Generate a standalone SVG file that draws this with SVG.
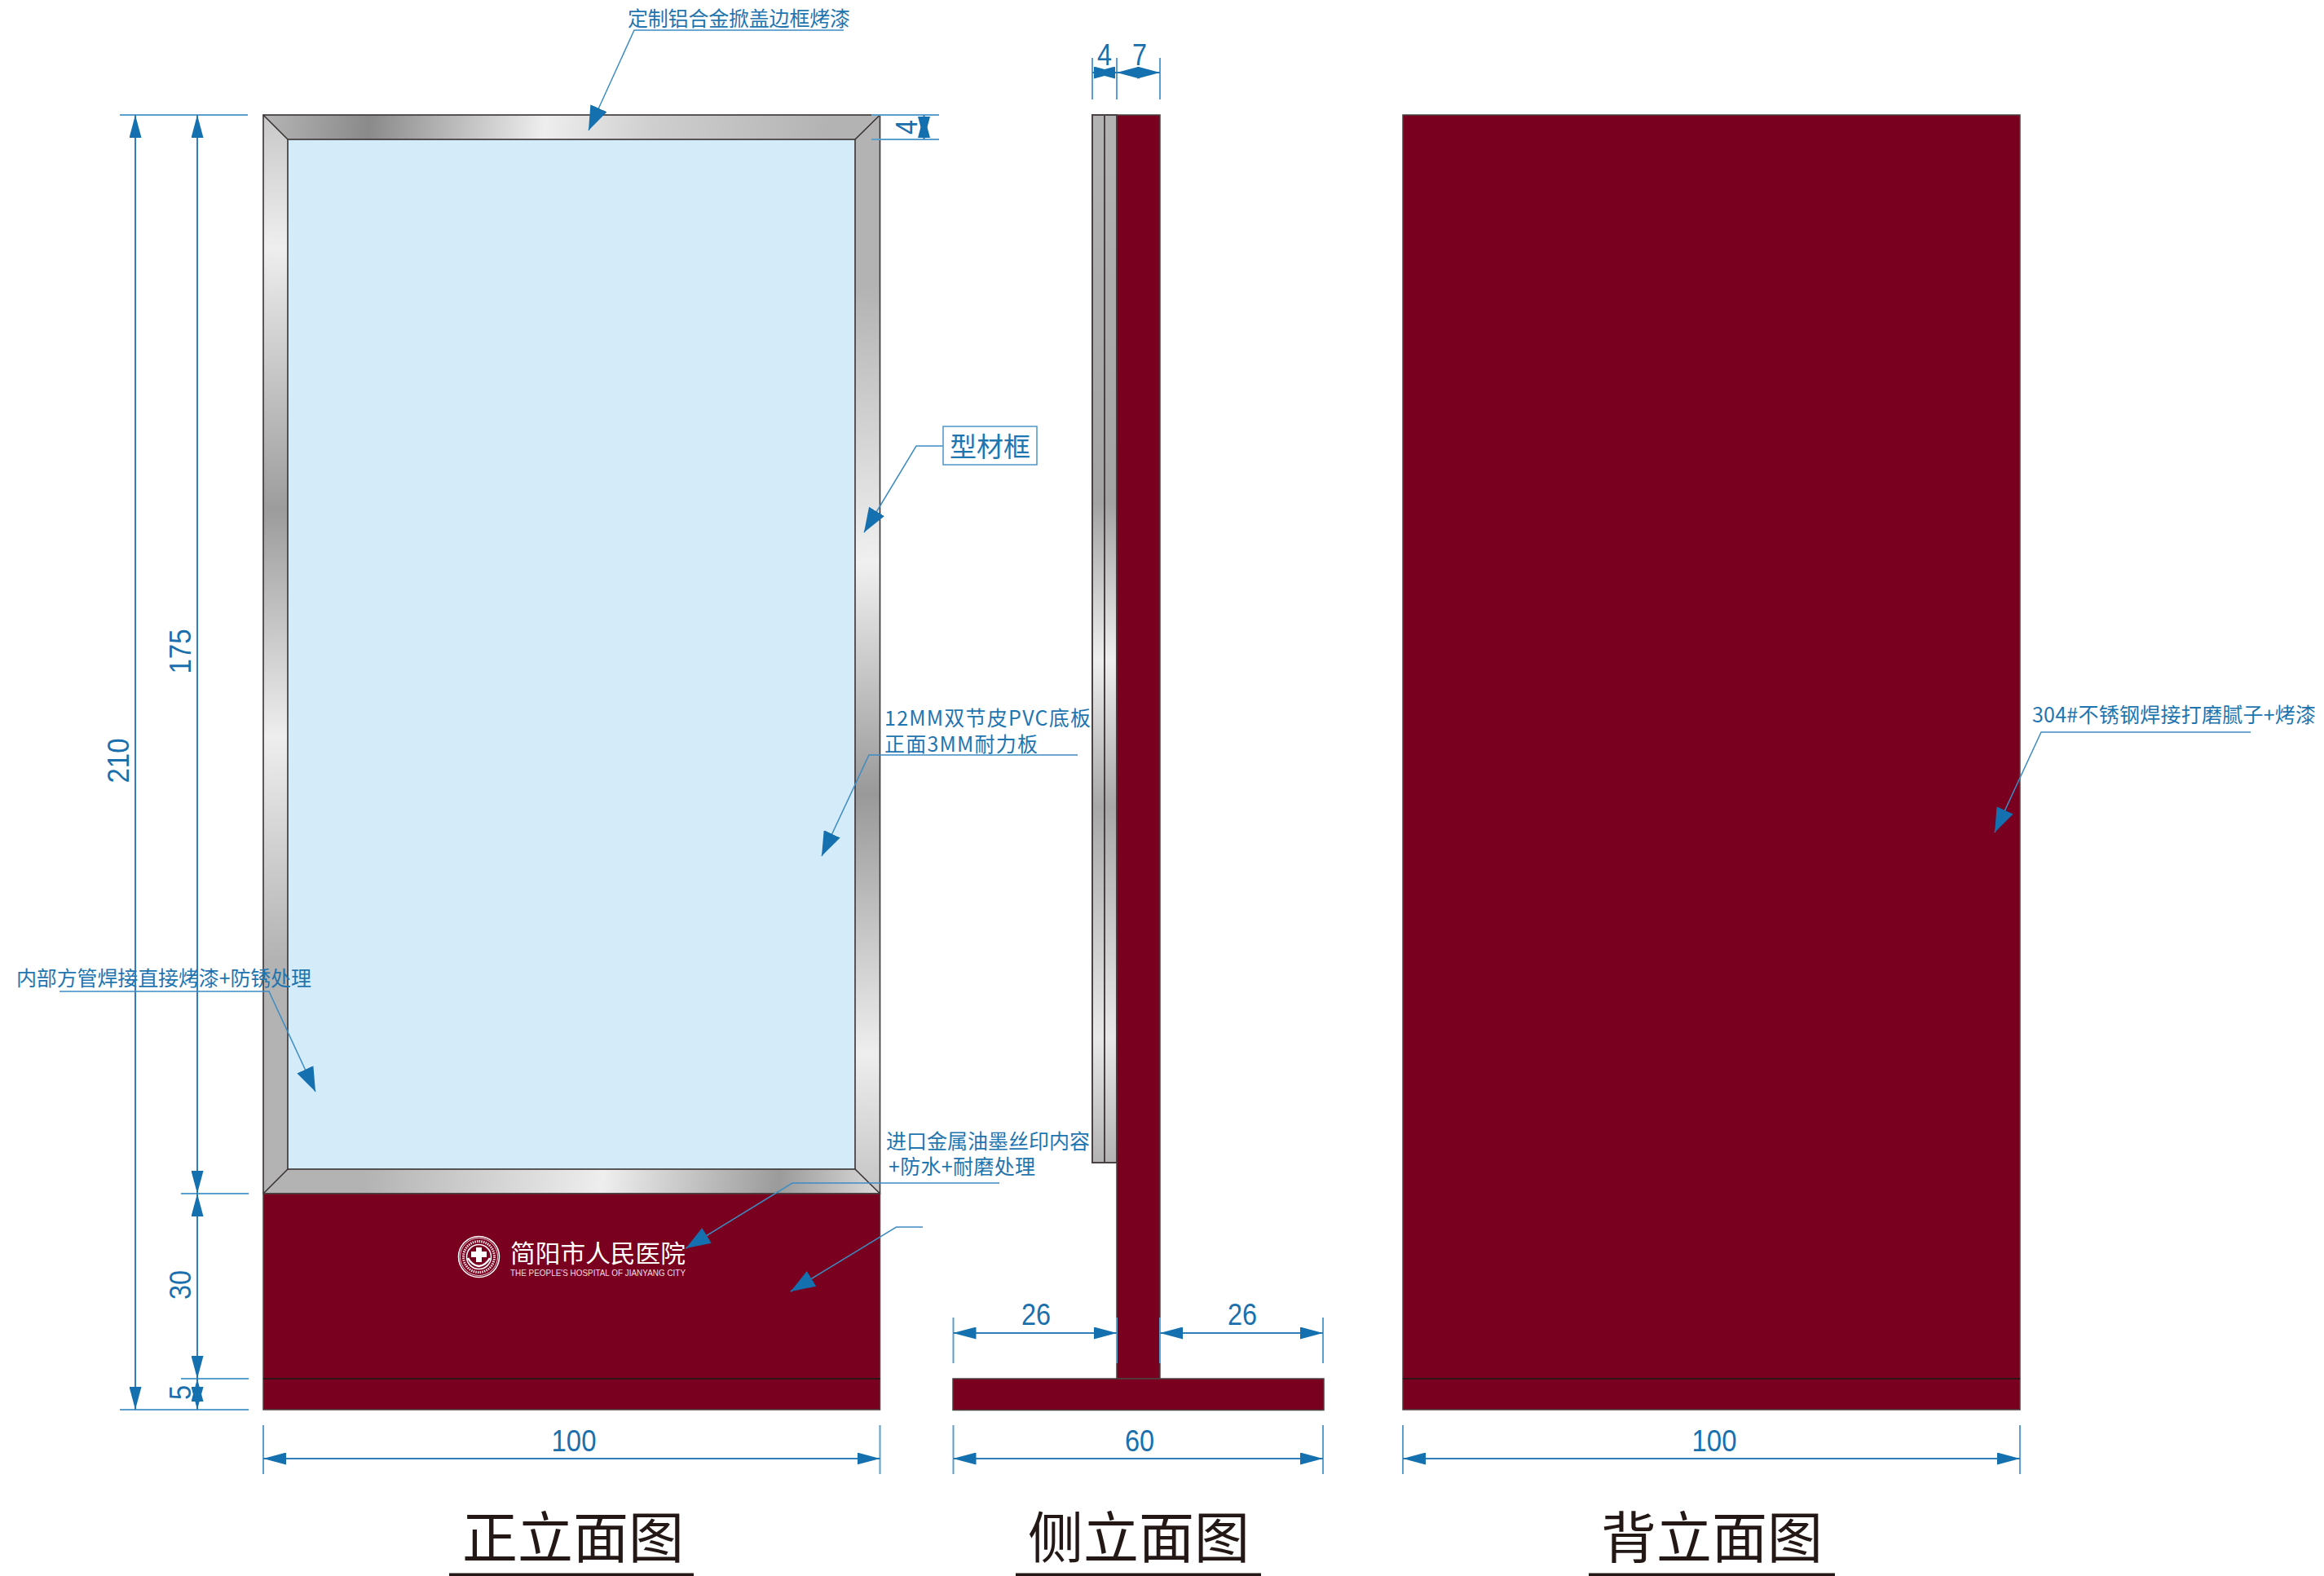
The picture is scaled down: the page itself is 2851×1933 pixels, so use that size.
<svg xmlns="http://www.w3.org/2000/svg" width="2851" height="1933" viewBox="0 0 2851 1933">
<style>
.cn{font-family:"Noto Sans CJK SC","Noto Sans",sans-serif;font-size:25px;fill:#1f75b0}
.dimt{font-family:"Liberation Sans",Arial,sans-serif;font-size:36px;fill:#1a70ad;text-anchor:middle}
.title{font-family:"Noto Sans CJK SC",sans-serif;font-size:68px;fill:#231815;text-anchor:middle}
.maroon{fill:#79001f;stroke:#4a4040;stroke-width:1.5}
.edge{fill:none;stroke:#3a3232;stroke-width:1.6}
.side{fill:url(#gs);stroke:#4a4242;stroke-width:2}
.sep{stroke:#2c1418;stroke-width:2}
.dim{stroke:#2f80ba;stroke-width:2;fill:none;marker-start:url(#ah);marker-end:url(#ah)}
.tick{stroke:#5a9fce;stroke-width:2;fill:none}
.lead{stroke:#3d8cc2;stroke-width:1.5;fill:none;marker-end:url(#lh)}
.under{fill:#231815}
</style>
<defs>
<marker id="ah" viewBox="0 0 28 15" refX="28" refY="7.5" markerWidth="28" markerHeight="15" markerUnits="userSpaceOnUse" orient="auto-start-reverse"><path d="M0 0L28 7.500L0 15z" fill="#1470ae"/></marker>
<marker id="lh" viewBox="0 0 30 22" refX="30" refY="11" markerWidth="30" markerHeight="22" markerUnits="userSpaceOnUse" orient="auto"><path d="M0 0L30 11L0 22z" fill="#1470ae"/></marker>
<linearGradient id="gt" gradientUnits="userSpaceOnUse" x1="323" y1="141" x2="1079" y2="250">
<stop offset="0" stop-color="#b5b5b5"/><stop offset=".17" stop-color="#8a8a8a"/><stop offset=".45" stop-color="#eeeeee"/><stop offset=".62" stop-color="#cfcfcf"/><stop offset=".9" stop-color="#b3b3b3"/><stop offset="1" stop-color="#b3b3b3"/></linearGradient>
<linearGradient id="gb" gradientUnits="userSpaceOnUse" x1="323" y1="1400" x2="1079" y2="1500">
<stop offset="0" stop-color="#b3b3b3"/><stop offset=".17" stop-color="#b3b3b3"/><stop offset=".55" stop-color="#eeeeee"/><stop offset=".83" stop-color="#9b9b9b"/><stop offset="1" stop-color="#dddddd"/></linearGradient>
<linearGradient id="gl" gradientUnits="userSpaceOnUse" x1="323" y1="141" x2="353" y2="1434">
<stop offset="0" stop-color="#c8c8c8"/><stop offset=".125" stop-color="#eeeeee"/><stop offset=".375" stop-color="#9c9c9c"/><stop offset=".59" stop-color="#eeeeee"/><stop offset=".8" stop-color="#b3b3b3"/><stop offset="1" stop-color="#b3b3b3"/></linearGradient>
<linearGradient id="gr" gradientUnits="userSpaceOnUse" x1="1049" y1="141" x2="1079" y2="1464">
<stop offset="0" stop-color="#b3b3b3"/><stop offset=".16" stop-color="#b3b3b3"/><stop offset=".415" stop-color="#f0f0f0"/><stop offset=".63" stop-color="#999999"/><stop offset=".87" stop-color="#eeeeee"/><stop offset="1" stop-color="#c4c4c4"/></linearGradient>
<linearGradient id="gs" gradientUnits="userSpaceOnUse" x1="0" y1="141" x2="0" y2="1426">
<stop offset="0" stop-color="#b3b3b3"/><stop offset=".37" stop-color="#a3a3a3"/><stop offset=".52" stop-color="#eeeeee"/><stop offset=".66" stop-color="#a8a8a8"/><stop offset=".88" stop-color="#e8e8e8"/><stop offset="1" stop-color="#b3b3b3"/></linearGradient>
</defs>
<rect width="2851" height="1933" fill="#fff"/>

<g id="front-elevation">
<rect x="353" y="171" width="696" height="1263" fill="#d4ebf9"/>
<polygon points="323,141 1079.500,141 1049,171 353,171" fill="url(#gt)"/>
<polygon points="323,1464 1079.500,1464 1049,1434 353,1434" fill="url(#gb)"/>
<polygon points="323,141 353,171 353,1434 323,1464" fill="url(#gl)"/>
<polygon points="1079.500,141 1049,171 1049,1434 1079.500,1464" fill="url(#gr)"/>
<rect x="323" y="141" width="756.500" height="1323" class="edge"/>
<rect x="353" y="171" width="696" height="1263" class="edge"/>
<path d="M323 141L353 171M1079.500 141L1049 171M323 1464L353 1434M1079.500 1464L1049 1434" class="edge"/>
<rect x="323" y="1464" width="756.500" height="265" class="maroon"/>
<line x1="323" y1="1691" x2="1079.500" y2="1691" class="sep"/>
</g>

<g id="logo">
<circle cx="587.500" cy="1541.500" r="25" fill="none" stroke="#fff" stroke-width="1.5"/>
<circle cx="587.500" cy="1541.500" r="23" fill="none" stroke="#fff" stroke-width=".8"/>
<circle cx="587.500" cy="1541.500" r="19" fill="none" stroke="#f2dfe3" stroke-width="3" stroke-dasharray="1.500 1.200"/>
<circle cx="587.500" cy="1541.500" r="15" fill="none" stroke="#fff" stroke-width="1.500"/>
<path d="M584 1530h7v5h6v7h-6v6h-7v-6h-6v-7h6z" fill="#fff"/>
<path d="M574 1543q5 9 13.500 10q8.500-1 13.500-10" fill="none" stroke="#fff" stroke-width="2.500"/>
<text x="626" y="1548" font-family="'Noto Sans CJK SC',sans-serif" font-size="30" fill="#fff" textLength="215" lengthAdjust="spacingAndGlyphs">简阳市人民医院</text>
<text x="626" y="1565" font-family="'Liberation Sans',sans-serif" font-size="11" fill="#f0dde1" textLength="215" lengthAdjust="spacingAndGlyphs">THE PEOPLE'S HOSPITAL OF JIANYANG CITY</text>
</g>

<g id="side-elevation">
<rect x="1340" y="141" width="15" height="1285" class="side"/>
<rect x="1355" y="141" width="15" height="1285" class="side"/>
<rect x="1370" y="141" width="53" height="1550" class="maroon"/>
<rect x="1169" y="1691" width="455" height="38.500" class="maroon"/>
</g>

<g id="back-elevation">
<rect x="1721" y="141" width="757" height="1588" class="maroon"/>
<line x1="1721" y1="1691" x2="2478" y2="1691" class="sep"/>
</g>

<g id="connectors">
<path class="tick" d="M147 141H304M147 1729H305M222 1464H305M222 1691H305M1069 141H1152M1069 171H1152"/>
<path class="tick" d="M1340 71V122M1370 71V122M1423 71V122"/>
<path class="tick" d="M323 1748V1808M1079.500 1748V1808M1169.500 1748V1808M1623 1748V1808M1721 1748V1808M2478 1748V1808"/>
<path class="tick" d="M1169.500 1616V1672M1370 1616V1672M1423 1616V1672M1623 1616V1672"/>
<line class="dim" x1="166" y1="141" x2="166" y2="1729"/>
<line class="dim" x1="242" y1="141" x2="242" y2="1464"/>
<line class="dim" x1="242" y1="1464" x2="242" y2="1691"/>
<line class="dim" x1="242" y1="1691" x2="242" y2="1729"/>
<line class="dim" x1="1133.500" y1="141" x2="1133.500" y2="171"/>
<line class="dim" x1="1340" y1="89" x2="1370" y2="89"/>
<line class="dim" x1="1370" y1="89" x2="1423" y2="89"/>
<line class="dim" x1="323" y1="1789" x2="1079.500" y2="1789"/>
<line class="dim" x1="1169.500" y1="1789" x2="1623" y2="1789"/>
<line class="dim" x1="1721" y1="1789" x2="2478" y2="1789"/>
<line class="dim" x1="1169.500" y1="1635" x2="1370" y2="1635"/>
<line class="dim" x1="1423" y1="1635" x2="1623" y2="1635"/>
<path class="lead" d="M1035 37H778L722 160"/>
<path class="lead" d="M1157 547H1124L1060 653"/>
<path class="lead" d="M1322 926H1066L1008 1050"/>
<path class="lead" d="M73 1216H330L387 1339"/>
<path class="lead" d="M1226 1451H972L841.500 1531"/>
<path class="lead" d="M1132 1505H1099.500L970 1584"/>
<path class="lead" d="M2761 898H2504L2447 1021"/>
</g>

<g id="dimension-labels">
<text class="dimt" transform="rotate(-90 158 933)" x="158" y="933" textLength="55" lengthAdjust="spacingAndGlyphs">210</text>
<text class="dimt" transform="rotate(-90 234 799)" x="234" y="799" textLength="55" lengthAdjust="spacingAndGlyphs">175</text>
<text class="dimt" transform="rotate(-90 234 1576)" x="234" y="1576" textLength="36" lengthAdjust="spacingAndGlyphs">30</text>
<text class="dimt" transform="rotate(-90 234 1708)" x="234" y="1708" textLength="18" lengthAdjust="spacingAndGlyphs">5</text>
<text class="dimt" transform="rotate(-90 1125 156)" x="1125" y="156" textLength="18" lengthAdjust="spacingAndGlyphs">4</text>
<text class="dimt" x="1355" y="80" textLength="18" lengthAdjust="spacingAndGlyphs">4</text>
<text class="dimt" x="1398" y="80" textLength="18" lengthAdjust="spacingAndGlyphs">7</text>
<text class="dimt" x="1271" y="1625" textLength="36" lengthAdjust="spacingAndGlyphs">26</text>
<text class="dimt" x="1524" y="1625" textLength="36" lengthAdjust="spacingAndGlyphs">26</text>
<text class="dimt" x="704" y="1780" textLength="55" lengthAdjust="spacingAndGlyphs">100</text>
<text class="dimt" x="1398" y="1780" textLength="36" lengthAdjust="spacingAndGlyphs">60</text>
<text class="dimt" x="2103" y="1780" textLength="55" lengthAdjust="spacingAndGlyphs">100</text>
</g>

<g id="callout-labels">
<text class="cn" x="770" y="32" textLength="273">定制铝合金掀盖边框烤漆</text>
<g id="callout-frame">
<rect x="1157" y="523" width="115" height="47" fill="#fff" stroke="#4d97c9" stroke-width="1.5"/>
<text class="cn" x="1165" y="560" style="font-size:33px" textLength="99">型材框</text>
</g>
<text class="cn" x="1085" y="890" textLength="253">12MM双节皮PVC底板</text>
<text class="cn" x="1085" y="922" textLength="188">正面3MM耐力板</text>
<text class="cn" x="20" y="1209" textLength="362">内部方管焊接直接烤漆+防锈处理</text>
<text class="cn" x="1087" y="1409" textLength="250">进口金属油墨丝印内容</text>
<text class="cn" x="1090" y="1440" textLength="180">+防水+耐磨处理</text>
<text class="cn" x="2493" y="886" textLength="348">304#不锈钢焊接打磨腻子+烤漆</text>
</g>

<g id="titles">
<text class="title" x="703" y="1911">正立面图</text>
<rect class="under" x="551" y="1929.500" width="300" height="3.500"/>
<text class="title" x="1397" y="1911">侧立面图</text>
<rect class="under" x="1246" y="1929.500" width="301" height="3.500"/>
<text class="title" x="2100" y="1911">背立面图</text>
<rect class="under" x="1949" y="1929.500" width="302" height="3.500"/>
</g>
</svg>
